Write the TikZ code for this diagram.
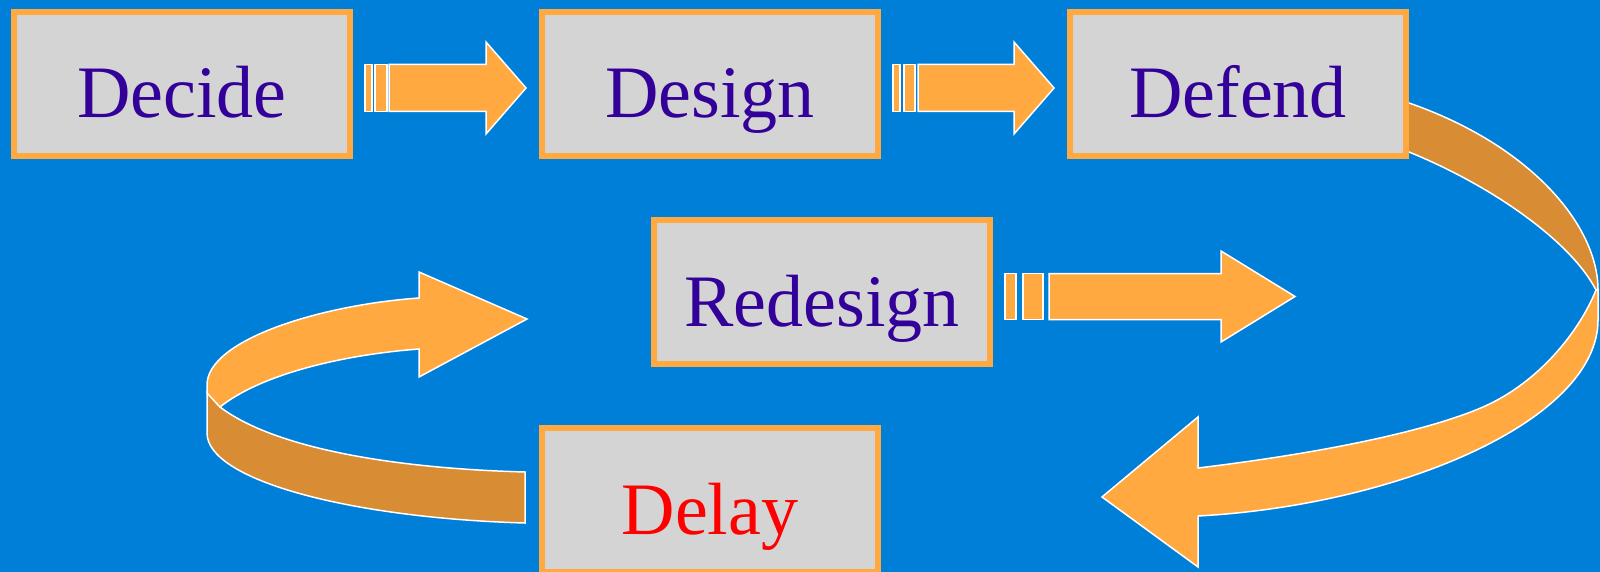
\documentclass[tikz,border=0pt]{standalone}
\usepackage{fontspec}
\setmainfont{Liberation Serif}
\definecolor{bg}{RGB}{0,127,217}
\definecolor{org}{RGB}{255,169,64}
\definecolor{dorg}{RGB}{216,140,52}
\definecolor{boxgray}{RGB}{212,212,212}
\definecolor{txt}{RGB}{51,0,153}
\begin{document}
\begin{tikzpicture}[x=1pt,y=-1pt,
  stage/.style={draw=org, fill=boxgray, line width=6pt, minimum width=336pt, minimum height=144pt,
    inner sep=0pt, text height=68pt, text depth=0pt, font=\fontsize{74}{80}\selectfont, text=txt},
  arr/.style={fill=org, draw=white, line width=1.5pt, line join=miter},
  arrback/.style={fill=dorg, draw=white, line width=1.5pt, line join=miter}]
\useasboundingbox (0,0) rectangle (1600,572);
\clip (0,0) rectangle (1600,572);
\fill[bg] (0,0) rectangle (1600,572);

% right ribbon: Defend -> Delay (back side)
\filldraw[arrback] (1404,101) -- (1409,103) .. controls (1530,145) and (1598,225) .. (1598,290)
  -- (1596,290) .. controls (1570,240) and (1490,185) .. (1409,152) -- (1404,150) -- cycle;
% right ribbon front side with head
\filldraw[arr] (1596,290) -- (1598,290) -- (1598,320) .. controls (1598,420) and (1400,505) .. (1198,516)
  -- (1198,567) -- (1102,497) -- (1198,417) -- (1198,468)
  .. controls (1330,452) and (1430,430) .. (1483,407)
  .. controls (1540,382) and (1580,330) .. (1596,290) -- cycle;

% left ribbon: Delay -> Redesign (back side)
\filldraw[arrback] (207,392) -- (207,433) .. controls (207,480) and (350,518) .. (525,523)
  -- (525,472) .. controls (380,468) and (270,445) .. (220,407) -- cycle;
% left ribbon front side with head
\filldraw[arr] (419,298) -- (419,272) -- (527,319) -- (419,377) -- (419,349)
  .. controls (340,355) and (260,375) .. (220,407) -- (207,393) -- (207,385)
  .. controls (207,340) and (320,305) .. (419,298) -- cycle;

% straight striped arrows
\filldraw[arr] (365,64.5) rectangle (372,111.5);
\filldraw[arr] (375,64.5) rectangle (387,111.5);
\filldraw[arr] (389,64.5) -- (486,64.5) -- (486,42) -- (526,88) -- (486,134) -- (486,111.5) -- (389,111.5) -- cycle;

\filldraw[arr] (893,64.5) rectangle (900,111.5);
\filldraw[arr] (904,64.5) rectangle (915,111.5);
\filldraw[arr] (918,64.5) -- (1014,64.5) -- (1014,42) -- (1054,88) -- (1014,134) -- (1014,111.5) -- (918,111.5) -- cycle;

\filldraw[arr] (1005,273.5) rectangle (1016,319.5);
\filldraw[arr] (1023,273.5) rectangle (1043,319.5);
\filldraw[arr] (1049,273.5) -- (1221,273.5) -- (1221,251) -- (1295,296.5) -- (1221,342) -- (1221,319.5) -- (1049,319.5) -- cycle;

% boxes
\node[stage] (decide) at (182,84) {Decide};
\node[stage] (design) at (710,84) {Design};
\node[stage] (defend) at (1238,84) {Defend};
\node[stage] (redesign) at (822,292) {Redesign};
\node[stage, text=red] (delay) at (710,500) {Delay};
\end{tikzpicture}
\end{document}
